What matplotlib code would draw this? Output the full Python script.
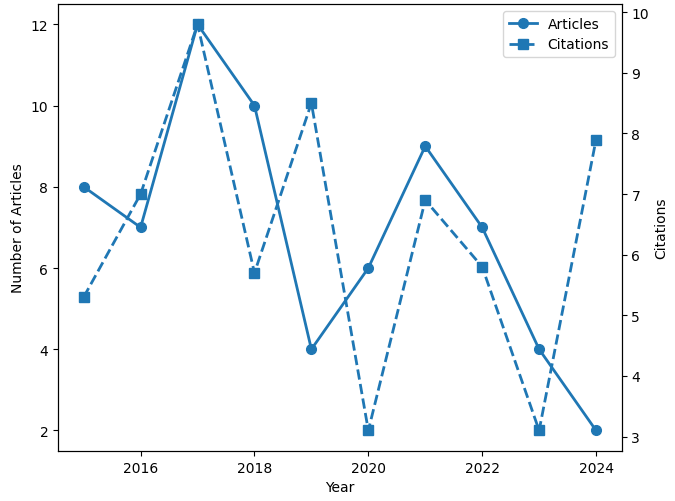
import matplotlib.pyplot as plt

years = [2015, 2016, 2017, 2018, 2019, 2020, 2021, 2022, 2023, 2024]
articles = [8, 7, 12, 10, 4, 6, 9, 7, 4, 2]
citations = [5.3, 7.0, 9.8, 5.7, 8.5, 3.1, 6.9, 5.8, 3.1, 7.9]

fig, ax1 = plt.subplots(figsize=(6.75, 5.02), dpi=100)
fig.subplots_adjust(left=0.086, right=0.921, bottom=0.1, top=0.99)

l1, = ax1.plot(years, articles, marker='o', linestyle='-', color='tab:blue',
               linewidth=2, markersize=7, label='Articles')
ax1.set_xlabel('Year')
ax1.set_ylabel('Number of Articles')

# citations on a second y axis
ax2 = ax1.twinx()
l2, = ax2.plot(years, citations, marker='s', linestyle='--', color='tab:blue',
               linewidth=2, markersize=7, label='Citations')
ax2.set_ylabel('Citations')

ax1.legend([l1, l2], ['Articles', 'Citations'], loc='upper right')

plt.savefig('out.png')
